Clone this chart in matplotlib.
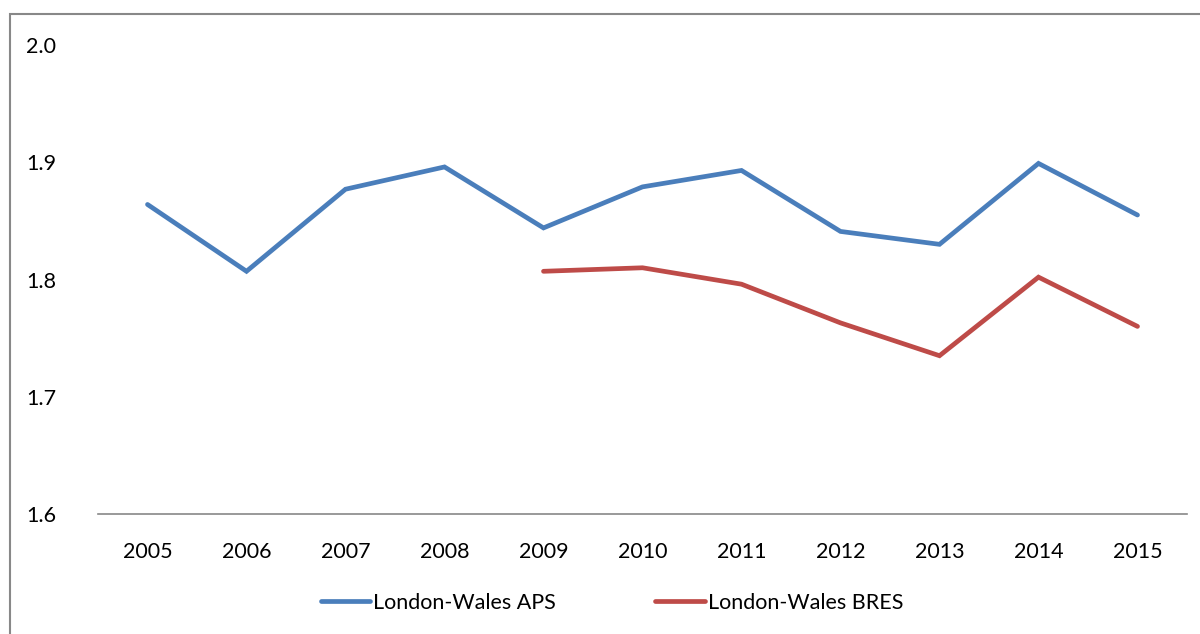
import matplotlib.pyplot as plt
import numpy as np
from matplotlib.patches import Rectangle

plt.rcParams['font.family'] = ['Lato', 'DejaVu Sans']

years = ["2005", "2006", "2007", "2008", "2009", "2010", "2011", "2012", "2013", "2014", "2015"]
aps = [1.864, 1.807, 1.877, 1.896, 1.844, 1.879, 1.893, 1.841, 1.830, 1.899, 1.855]
bres_years = ["2009", "2010", "2011", "2012", "2013", "2014", "2015"]
bres = [1.807, 1.810, 1.796, 1.763, 1.735, 1.802, 1.760]

fig = plt.figure(figsize=(12, 6.34), dpi=100)
ax = fig.add_axes([98 / 1200, 1 - 514 / 634, (1187 - 98) / 1200, (514 - 45) / 634])

x = np.arange(len(years))
xb = [years.index(y) for y in bres_years]
ax.plot(x, aps, color="#4A7EBB", lw=3.4, solid_capstyle="round", solid_joinstyle="miter", label="London-Wales APS")
ax.plot(xb, bres, color="#BE4B48", lw=3.4, solid_capstyle="round", solid_joinstyle="miter", label="London-Wales BRES")

ax.set_xlim(-0.5, len(years) - 0.5)
ax.set_ylim(1.6, 2.0)
ax.set_yticks([1.6, 1.7, 1.8, 1.9, 2.0])
ax.set_yticklabels(["1.6", "1.7", "1.8", "1.9", "2.0"])
ax.set_xticks(x)
ax.set_xticklabels(years)
ax.tick_params(axis="both", length=0, labelsize=15.5)
ax.tick_params(axis="y", pad=30)
ax.tick_params(axis="x", pad=20)
for s in ["top", "right", "left"]:
    ax.spines[s].set_visible(False)
ax.spines["bottom"].set_color("#888888")
ax.spines["bottom"].set_linewidth(1.2)

leg = fig.legend(loc="center", bbox_to_anchor=(612 / 1200, 1 - 603 / 634), ncol=2, frameon=False,
                 fontsize=15.5, handlelength=2.3, handletextpad=0.15, columnspacing=4.6)

# outer chart frame (cropped at right/bottom)
fig.patches.append(Rectangle((10 / 1200, -0.1), 1.2, 1 - 14 / 634 + 0.1, transform=fig.transFigure,
                             fill=False, edgecolor="#888888", lw=1.5))

plt.savefig("out.png", dpi=100)
